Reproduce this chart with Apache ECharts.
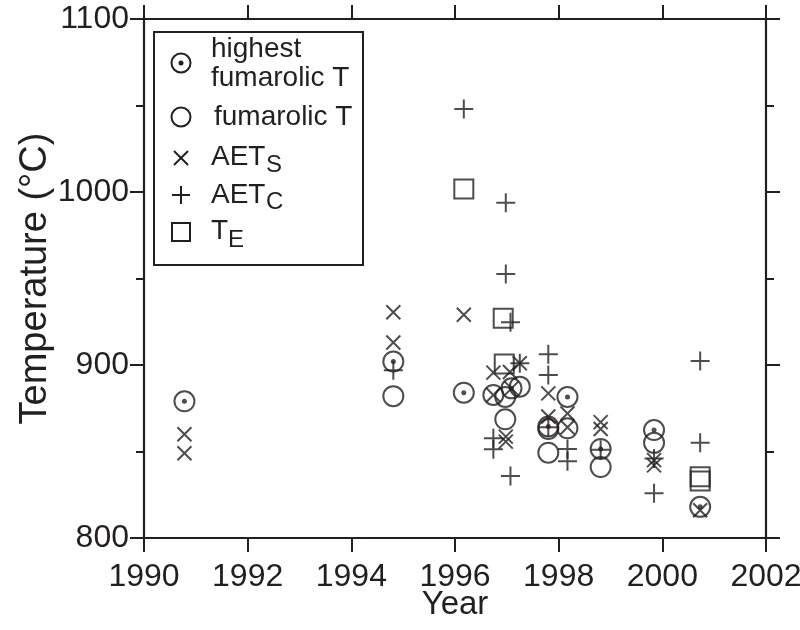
<!DOCTYPE html>
<html>
<head>
<meta charset="utf-8">
<title>Temperature vs Year</title>
<script src="https://cdn.jsdelivr.net/npm/echarts@6/dist/echarts.min.js"></script>
<style>
  html, body { margin: 0; padding: 0; background: #fff; }
  #chart { width: 800px; height: 630px; }
</style>
</head>
<body>
<div id="chart"></div>
<script>
// ---- DATA (year, temperature °C) ----
const xTicks = [1990, 2002, 2];
const yTicks = [800, 1100, 100];

const highestT = [
  [1990.78, 879], [1994.81, 902], [1996.17, 884], [1997.09, 886.5],
  [1997.80, 864.5], [1998.17, 881.5], [1998.81, 851.5], [1999.84, 862.4],
  [2000.73, 818]
];
const fumarolicT = [
  [1994.81, 882], [1996.74, 882.7], [1996.97, 881.5], [1997.25, 887.5],
  [1996.97, 868.6], [1997.80, 863], [1997.80, 849.3], [1998.17, 863.4],
  [1998.81, 841], [1999.84, 855]
];
const aetS = [
  [1990.78, 860], [1990.78, 849], [1994.81, 930.5], [1994.81, 913],
  [1996.17, 929], [1996.74, 895.6], [1997.06, 896], [1997.25, 901],
  [1996.74, 882.7], [1997.09, 886.5], [1996.98, 858.6], [1996.98, 855.7],
  [1997.80, 883.6], [1997.80, 870.2], [1998.17, 872], [1998.17, 864],
  [1998.81, 867], [1998.81, 863], [1999.84, 845], [1999.84, 842],
  [2000.73, 816]
];
const aetC = [
  [1994.81, 897], [1996.17, 1048], [1996.98, 993.8], [1996.98, 952.6],
  [1997.07, 924.7], [1997.25, 901], [1996.74, 857.6], [1996.74, 851.3],
  [1997.07, 835.8], [1997.80, 906.2], [1997.80, 894.2], [1997.80, 864],
  [1998.17, 851.5], [1998.17, 844.3], [1998.81, 851], [1999.84, 846],
  [1999.84, 825.8], [2000.73, 902.3], [2000.73, 855]
];
const tE = [
  [1996.17, 1001.7], [1996.93, 927], [1996.95, 900.6], [2000.73, 835.4],
  [2000.73, 833]
];

// ---- STYLE ----
const INK = '#231f20';
const FONT = '"Liberation Sans", Arial, Helvetica, sans-serif';
const CROSS = 'path://M0,0L10,10M10,0L0,10';
const PLUS = 'path://M0,5L10,5M5,0L5,10';

const openStyle = { color: 'rgba(0,0,0,0)', borderColor: INK, borderWidth: 2 };

function axisCommon(range, showLabel, margin) {
  return {
    type: 'value',
    min: range[0], max: range[1], interval: range[2],
    axisLine: { show: true, onZero: false, lineStyle: { color: INK, width: 2.2 } },
    axisTick: { show: true, inside: false, length: 14, lineStyle: { color: INK, width: 2 } },
    axisLabel: {
      show: showLabel, color: INK, fontSize: 32, fontFamily: FONT, margin: margin,
      formatter: v => String(v)
    },
    splitLine: { show: false }
  };
}

const chart = echarts.init(document.getElementById('chart'), null, { renderer: 'canvas' });

chart.setOption({
  backgroundColor: '#fff',
  animation: false,
  grid: { left: 144, right: 34, top: 19, bottom: 92, containLabel: false, outerBoundsMode: 'none' },
  xAxis: [
    Object.assign(axisCommon(xTicks, true, 23), {
      position: 'bottom',
      name: 'Year', nameLocation: 'middle', nameGap: 50, nameMoveOverlap: false,
      nameTextStyle: { color: INK, fontSize: 33, fontFamily: FONT }
    }),
    Object.assign(axisCommon(xTicks, false, 0), { position: 'top' })
  ],
  yAxis: [
    Object.assign(axisCommon(yTicks, true, 15), {
      position: 'left',
      minorTick: { show: true, splitNumber: 2, length: 8, lineStyle: { color: INK, width: 2 } },
      name: 'Temperature (°C)', nameLocation: 'middle', nameGap: 89, nameRotate: 90, nameMoveOverlap: false,
      nameTextStyle: { color: INK, fontSize: 38, fontFamily: FONT }
    }),
    Object.assign(axisCommon(yTicks, false, 0), {
      position: 'right',
      minorTick: { show: true, splitNumber: 2, length: 8, lineStyle: { color: INK, width: 2 } }
    })
  ],
  series: [
    { name: 'fumarolic T', type: 'scatter', data: fumarolicT, symbol: 'circle', symbolSize: 20, itemStyle: openStyle, silent: true },
    { name: 'highest fumarolic T', type: 'scatter', data: highestT, symbol: 'circle', symbolSize: 20, itemStyle: openStyle, silent: true },
    { name: 'highest dot', type: 'scatter', data: highestT, symbol: 'circle', symbolSize: 5, itemStyle: { color: INK }, silent: true },
    { name: 'AETs', type: 'scatter', data: aetS, symbol: CROSS, symbolSize: 14, itemStyle: openStyle, silent: true },
    { name: 'AETc', type: 'scatter', data: aetC, symbol: PLUS, symbolSize: 19, itemStyle: openStyle, silent: true },
    { name: 'TE', type: 'scatter', data: tE, symbol: 'rect', symbolSize: 19, itemStyle: openStyle, silent: true }
  ],
  // ---- LEGEND BOX ----
  graphic: [
    { type: 'rect', shape: { x: 154, y: 32, width: 209, height: 233 }, style: { fill: '#fff', stroke: INK, lineWidth: 2 }, z: 10 },
    // highest fumarolic T
    { type: 'circle', shape: { cx: 181, cy: 63, r: 9.5 }, style: { fill: 'none', stroke: INK, lineWidth: 2 }, z: 11 },
    { type: 'circle', shape: { cx: 181, cy: 63, r: 2.5 }, style: { fill: INK }, z: 11 },
    { type: 'text', x: 211, y: 49, style: { text: 'highest', font: '28px ' + FONT, fill: INK, verticalAlign: 'middle' }, z: 11 },
    { type: 'text', x: 211, y: 78, style: { text: 'fumarolic T', font: '28px ' + FONT, fill: INK, verticalAlign: 'middle' }, z: 11 },
    // fumarolic T
    { type: 'circle', shape: { cx: 181, cy: 117, r: 9.5 }, style: { fill: 'none', stroke: INK, lineWidth: 2 }, z: 11 },
    { type: 'text', x: 214, y: 117, style: { text: 'fumarolic T', font: '28px ' + FONT, fill: INK, verticalAlign: 'middle' }, z: 11 },
    // AET_S
    { type: 'line', shape: { x1: 174, y1: 151, x2: 188, y2: 165 }, style: { stroke: INK, lineWidth: 2 }, z: 11 },
    { type: 'line', shape: { x1: 188, y1: 151, x2: 174, y2: 165 }, style: { stroke: INK, lineWidth: 2 }, z: 11 },
    { type: 'text', x: 211, y: 157, style: { text: 'AET', font: '28px ' + FONT, fill: INK, verticalAlign: 'middle' }, z: 11 },
    { type: 'text', x: 266, y: 165, style: { text: 'S', font: '24px ' + FONT, fill: INK, verticalAlign: 'middle' }, z: 11 },
    // AET_C
    { type: 'line', shape: { x1: 172, y1: 195, x2: 190, y2: 195 }, style: { stroke: INK, lineWidth: 2 }, z: 11 },
    { type: 'line', shape: { x1: 181, y1: 186, x2: 181, y2: 204 }, style: { stroke: INK, lineWidth: 2 }, z: 11 },
    { type: 'text', x: 211, y: 195, style: { text: 'AET', font: '28px ' + FONT, fill: INK, verticalAlign: 'middle' }, z: 11 },
    { type: 'text', x: 266, y: 202, style: { text: 'C', font: '24px ' + FONT, fill: INK, verticalAlign: 'middle' }, z: 11 },
    // T_E
    { type: 'rect', shape: { x: 172, y: 223, width: 18, height: 18 }, style: { fill: 'none', stroke: INK, lineWidth: 2 }, z: 11 },
    { type: 'text', x: 211, y: 231, style: { text: 'T', font: '28px ' + FONT, fill: INK, verticalAlign: 'middle' }, z: 11 },
    { type: 'text', x: 228, y: 240, style: { text: 'E', font: '24px ' + FONT, fill: INK, verticalAlign: 'middle' }, z: 11 }
  ]
});
</script>
</body>
</html>
